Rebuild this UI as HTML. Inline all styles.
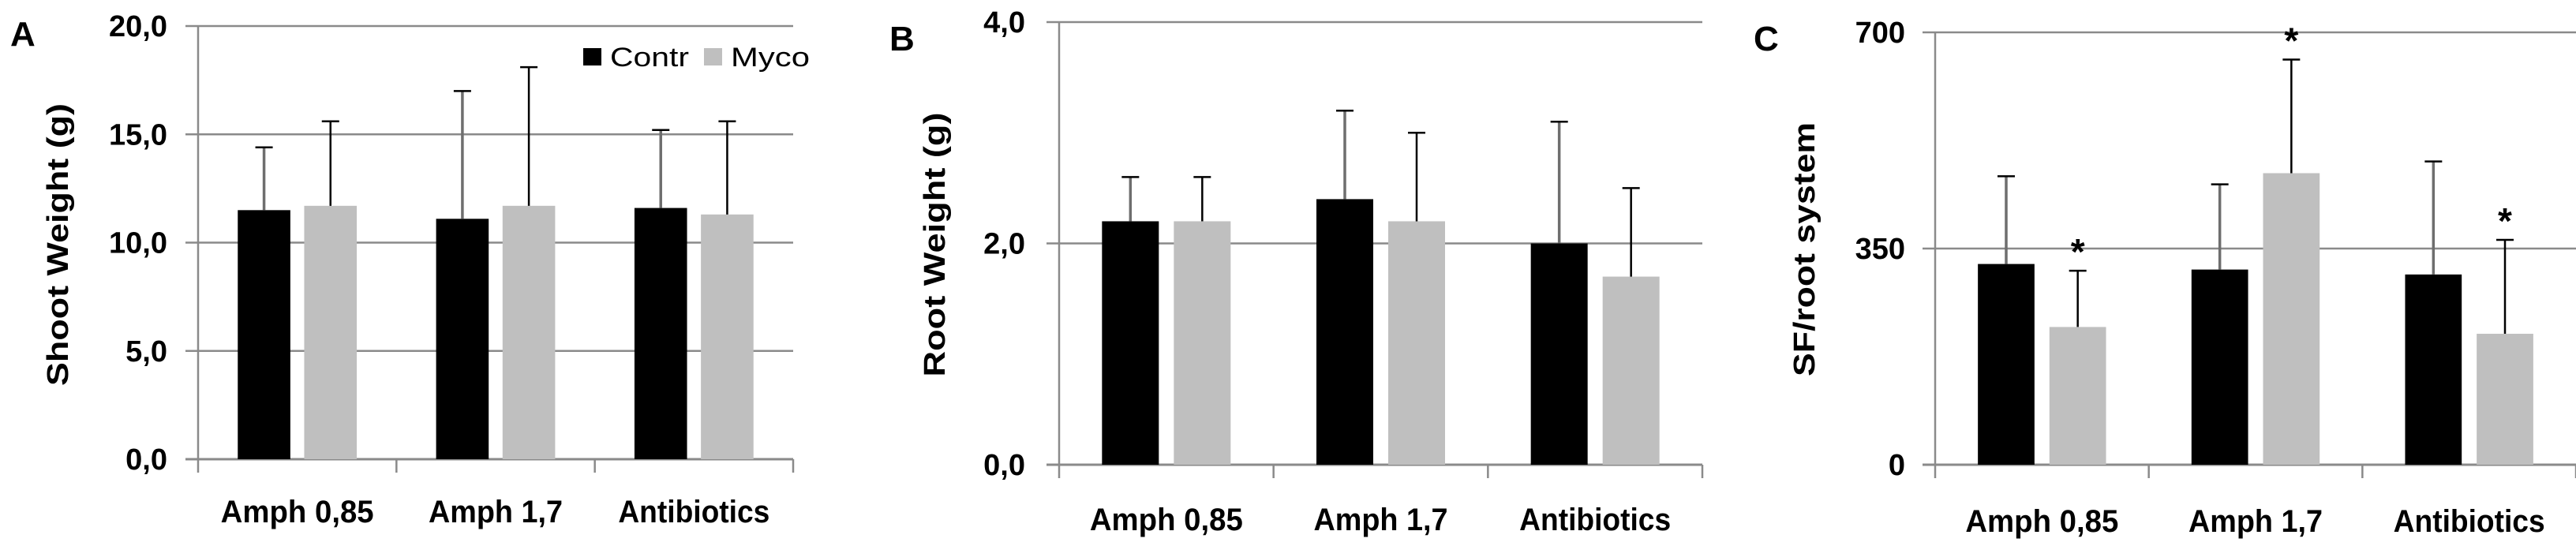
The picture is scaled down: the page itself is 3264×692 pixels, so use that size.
<!DOCTYPE html>
<html><head><meta charset="utf-8"><style>
html,body{margin:0;padding:0;background:#fff;}
svg{display:block;}
text{font-family:"Liberation Sans Narrow","Liberation Sans",sans-serif;}
</style></head>
<body>
<svg id="fig" width="3264" height="692" viewBox="0 0 3264 692" xmlns="http://www.w3.org/2000/svg"></svg>
<script>
const categories = ["Amph 0,85", "Amph 1,7", "Antibiotics"];
const shootContr = [11.5, 11.1, 11.6];
const shootContrErr = [14.4, 17.0, 15.2];
const shootMyco = [11.7, 11.7, 11.3];
const shootMycoErr = [15.6, 18.1, 15.6];
const shootTicks = ["0,0", "5,0", "10,0", "15,0", "20,0"];
const shootTickVals = [0, 5, 10, 15, 20];
const rootContr = [2.2, 2.4, 2.0];
const rootContrErr = [2.6, 3.2, 3.1];
const rootMyco = [2.2, 2.2, 1.7];
const rootMycoErr = [2.6, 3.0, 2.5];
const rootTicks = ["0,0", "2,0", "4,0"];
const rootTickVals = [0, 2, 4];
const sfContr = [325, 316, 308];
const sfContrErr = [467, 454, 491];
const sfMyco = [223, 472, 212];
const sfMycoErr = [314, 656, 364];
const sfStars = [true, true, true];
const sfTicks = ["0", "350", "700"];
const sfTickVals = [0, 350, 700];

const NS = "http://www.w3.org/2000/svg";
const svg = document.getElementById("fig");
function mk(tag, attrs, parent, txt) {
  const e = document.createElementNS(NS, tag);
  for (const k in attrs) e.setAttribute(k, attrs[k]);
  if (txt !== undefined) e.textContent = txt;
  (parent || svg).appendChild(e);
  return e;
}

function panel(p) {
  const g = mk("g", {});
  
  
  const yS = v => p.y0 - (v / p.ymax) * (p.y0 - p.ytop);
  const W = (p.xr - p.xl) / 3;
  // letter
  const L = mk("text", {x: p.lx, y: p.ly, "font-size": 44, "font-weight": "bold"}, g, p.letter);
  
  
  // gridlines & ticks
  p.tickVals.forEach((v, i) => {
    const y = yS(v);
    if (v !== 0) {
      const gl = mk("line", {x1: p.xl - 16, x2: p.xr, y1: y, y2: y, stroke: "#8a8a8a", "stroke-width": 2.5}, g);
      
      
    }
    const t = mk("text", {x: p.tickX, y: y + 13, "text-anchor": "end", "font-size": 38, "font-weight": "bold"}, g, p.tickLabels[i]);
    
    
  });
  // axes
  const ya = mk("line", {x1: p.xl, x2: p.xl, y1: p.ytop, y2: p.y0 + 17, stroke: "#8a8a8a", "stroke-width": 2.5}, g);
  
  
  const xa = mk("line", {x1: p.xl - 16, x2: p.xr, y1: p.y0, y2: p.y0, stroke: "#8a8a8a", "stroke-width": 3}, g);
  
  
  for (let i = 1; i <= 3; i++) {
    const tx = p.xl + i * W;
    const tk = mk("line", {x1: tx, x2: tx, y1: p.y0, y2: p.y0 + 17, stroke: "#8a8a8a", "stroke-width": 2.5}, g);
    
    
  }
  // bars
  const bw = 0.265 * W;
  categories.forEach((c, i) => {
    const cs = p.xl + i * W;
    const xc = cs + 0.2 * W;
    const xm = xc + bw + 0.07 * W;
    const series = [
      {x: xc, v: p.contr[i], e: p.contrErr[i], fill: "#000", ec: "#6e6e6e", ew: 3.5, name: "contr"},
      {x: xm, v: p.myco[i], e: p.mycoErr[i], fill: "#bfbfbf", ec: "#000", ew: 2.5, name: "myco"}
    ];
    series.forEach(s => {
      const r = mk("rect", {x: s.x, y: yS(s.v), width: bw, height: p.y0 - yS(s.v), fill: s.fill}, g);
      
      
      const cx = s.x + bw / 2;
      const el = mk("line", {x1: cx, x2: cx, y1: yS(s.v), y2: yS(s.e), stroke: s.ec, "stroke-width": s.ew}, g);
      
      
      const cap = mk("line", {x1: cx - 11, x2: cx + 11, y1: yS(s.e), y2: yS(s.e), stroke: "#000", "stroke-width": 2.5}, g);
      
      
      if (s.name === "myco" && p.stars && p.stars[i]) {
        const st = mk("text", {x: cx, y: yS(s.e) - 8, "text-anchor": "middle", "font-size": 46, "font-weight": "bold", "font-family": "Liberation Sans, sans-serif"}, g, "*");
        
        
      }
    });
    const lab = mk("text", {x: cs + W / 2, y: p.labY, "text-anchor": "middle", "font-size": 40, "font-weight": "bold", textLength: p.labLens[i], lengthAdjust: "spacingAndGlyphs"}, g, c);
    
    
  });
  // y title
  const yt = mk("text", {x: 0, y: 0, "text-anchor": "middle", "font-size": 38, "font-weight": "bold", "font-family": "Liberation Sans, sans-serif", textLength: p.titleLen, lengthAdjust: "spacingAndGlyphs", transform: `translate(${p.tx},${p.ty}) rotate(-90)`}, g, p.title);
  
  
}

panel({id: "shoot", letter: "A", lx: 13, ly: 58, xl: 251, xr: 1005, y0: 582, ytop: 33, ymax: 20,
  tickVals: shootTickVals, tickLabels: shootTicks, tickX: 212,
  contr: shootContr, contrErr: shootContrErr, myco: shootMyco, mycoErr: shootMycoErr,
  labY: 662, labLens: [194, 170, 192], title: "Shoot Weight (g)", titleLen: 358, tx: 86, ty: 310});
panel({id: "root", letter: "B", lx: 1127, ly: 64, xl: 1342, xr: 2157, y0: 589, ytop: 28, ymax: 4,
  tickVals: rootTickVals, tickLabels: rootTicks, tickX: 1299,
  contr: rootContr, contrErr: rootContrErr, myco: rootMyco, mycoErr: rootMycoErr,
  labY: 672, labLens: [194, 170, 192], title: "Root Weight (g)", titleLen: 335, tx: 1197, ty: 310});
panel({id: "sf", letter: "C", lx: 2222, ly: 64, xl: 2452, xr: 3264, y0: 589, ytop: 41, ymax: 700,
  tickVals: sfTickVals, tickLabels: sfTicks, tickX: 2414, stars: sfStars,
  contr: sfContr, contrErr: sfContrErr, myco: sfMyco, mycoErr: sfMycoErr,
  labY: 674, labLens: [194, 170, 192], title: "SF/root system", titleLen: 322, tx: 2299, ty: 316});

// legend
const lg = mk("g", {});


const l1 = mk("rect", {x: 739, y: 61, width: 23, height: 22, fill: "#000"}, lg);


const t1 = mk("text", {x: 773, y: 84, "font-size": 34, textLength: 100, lengthAdjust: "spacingAndGlyphs"}, lg, "Contr");


const l2 = mk("rect", {x: 892, y: 61, width: 23, height: 22, fill: "#bfbfbf"}, lg);


const t2 = mk("text", {x: 926, y: 84, "font-size": 34, textLength: 100, lengthAdjust: "spacingAndGlyphs"}, lg, "Myco");


</script>
</body></html>
